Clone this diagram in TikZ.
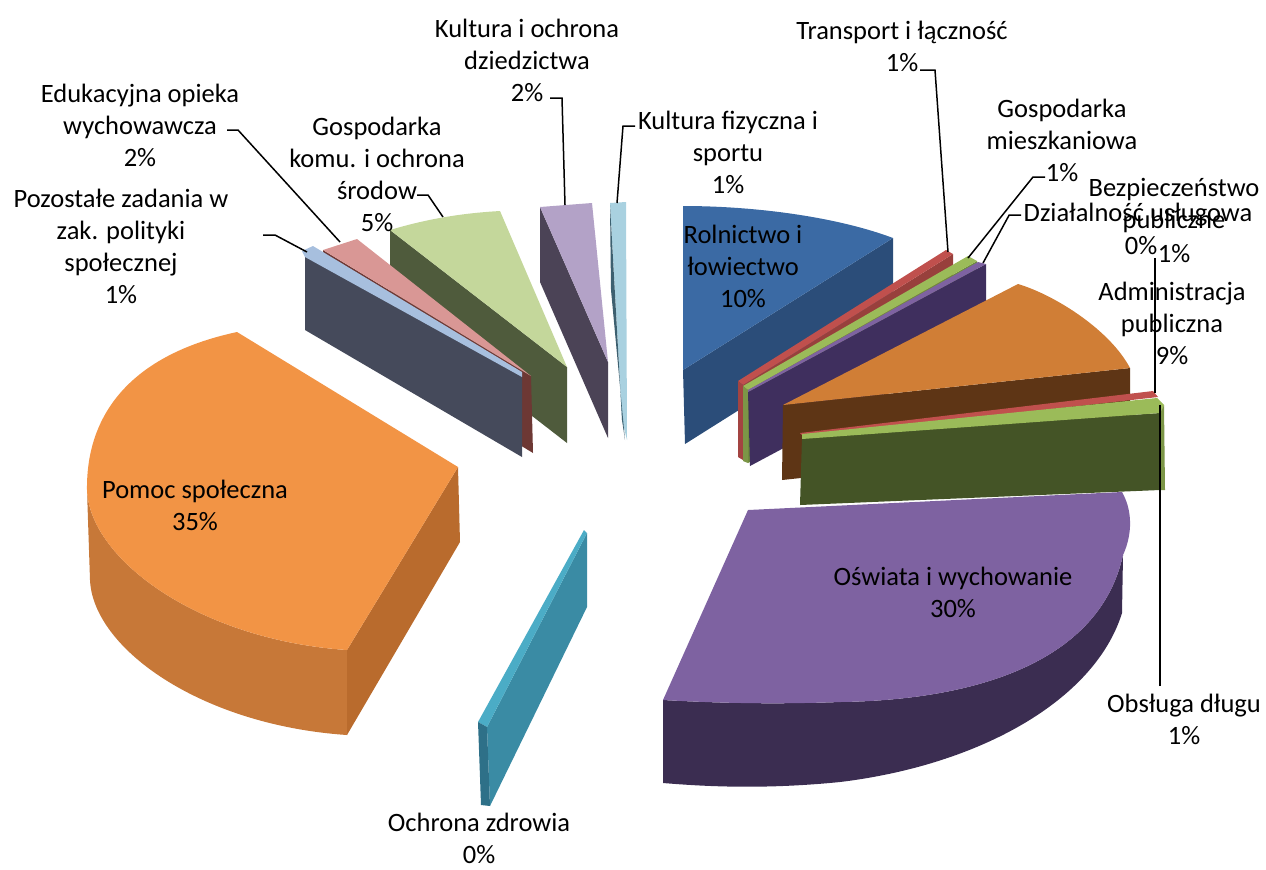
\documentclass[tikz,border=0pt]{standalone}
\usepackage{fontspec}
\setmainfont{Carlito}
\definecolor{RolTop}{HTML}{3B6AA4}
\definecolor{RolSide}{HTML}{2B4D79}
\definecolor{TrTop}{HTML}{C0504D}
\definecolor{TrSide}{HTML}{98403C}
\definecolor{MieTop}{HTML}{9BBB59}
\definecolor{MieSide}{HTML}{6E8B3B}
\definecolor{DzTop}{HTML}{7E62A1}
\definecolor{DzSide}{HTML}{3F2F5E}
\definecolor{AdmTop}{HTML}{D07E36}
\definecolor{AdmSide}{HTML}{5E3515}
\definecolor{BezTop}{HTML}{C0504D}
\definecolor{ObsTop}{HTML}{9BBB59}
\definecolor{ObsSide}{HTML}{445426}
\definecolor{OswTop}{HTML}{7E62A1}
\definecolor{OswSide}{HTML}{3B2D51}
\definecolor{ZdrTop}{HTML}{4BACC6}
\definecolor{ZdrSide}{HTML}{3A8BA4}
\definecolor{ZdrEdge}{HTML}{2E7088}
\definecolor{PomTop}{HTML}{F29445}
\definecolor{PomSide}{HTML}{C77838}
\definecolor{PomCut}{HTML}{B96B2D}
\definecolor{PozTop}{HTML}{A7BFDE}
\definecolor{PozSide}{HTML}{454A5B}
\definecolor{EduTop}{HTML}{D99795}
\definecolor{EduSide}{HTML}{6D3834}
\definecolor{KomTop}{HTML}{C4D79B}
\definecolor{KomSide}{HTML}{4F5B3C}
\definecolor{KulTop}{HTML}{B3A2C7}
\definecolor{KulSide}{HTML}{4B4356}
\definecolor{SpoTop}{HTML}{A9D1E0}
\definecolor{SpoSide}{HTML}{3D6070}
\tikzset{
    lbl/.style = {anchor=center, align=center, inner sep=0pt,
        font=\fontsize{10.6}{12.8}\selectfont},
    leader/.style = {draw, line width=0.6pt}
}

\begin{document}
\begin{tikzpicture}[x=0.4pt,y=-0.4pt]
                \useasboundingbox (0,0) rectangle (1266,869);
                % slices at the back, left side
                \fill[color=KulSide] (540,207) -- (608,362) -- (608,438) -- (540,282) -- cycle;
                \fill[color=KulTop] (540,207) -- (592,203) -- (608,362) -- cycle;
                \fill[color=SpoTop] (610,203) -- (626,202) -- (627,440) -- (622,420) -- cycle;
                \fill[color=SpoSide] (610,205) -- (622,420) -- (625,440) -- (611,290) -- cycle;
                \fill[color=KomSide] (390,230) -- (567,367) -- (567,443) -- (390,306) -- cycle;
                \fill[color=KomTop] (390,230) .. controls (430,218) and (465,213) .. (500,211) -- (567,367) -- cycle;
                \fill[color=EduSide] (323,250) -- (531,376) -- (533,453) -- (325,326) -- cycle;
                \fill[color=EduTop] (323,250) -- (357,239) -- (531,376) -- cycle;
                \fill[color=PozSide] (305,256) -- (522,376) -- (522,457) -- (305,330) -- cycle;
                \fill[color=PozTop] (302,251) -- (313,246) -- (522,372) -- (522,377) -- (305,257) -- cycle;
                % pomoc spoleczna
                \fill[color=PomSide] (87,490) .. controls (90,560) and (200,640) .. (347,650) -- (347,735) .. controls (200,725) and (93,648) .. (90,580) -- cycle;
                \fill[color=PomCut] (458,467) -- (460,542) -- (347,735) -- (347,650) -- cycle;
                \fill[color=PomTop] (458,467) -- (237,332) .. controls (130,355) and (86,415) .. (87,490) .. controls (90,560) and (200,640) .. (347,650) -- cycle;
                \fill[color=ZdrSide] (487,727) -- (587,533) -- (587,607) -- (490,806) -- cycle;
                \fill[color=ZdrTop] (478,722) -- (584,530) -- (587,533) -- (487,727) -- cycle;
                \fill[color=ZdrEdge] (478,722) -- (487,727) -- (490,806) -- (481,805) -- cycle;
                % right side
                \fill[color=RolSide] (683,370) -- (893,238) -- (893,313) -- (685,444) -- cycle;
                \fill[color=RolTop] (683,370) -- (683,206) .. controls (760,206) and (840,218) .. (893,238) -- cycle;
                \fill[color=TrSide] (743,385) -- (953,254) -- (953,330) -- (743,460) -- cycle;
                \fill[color=TrTop] (738,381) -- (946,250) -- (953,254) -- (743,385) -- cycle;
                \fill[color=TrTop!85!black] (738,381) -- (743,385) -- (743,460) -- (738,457) -- cycle;
                \fill[color=MieSide] (748,390) -- (977,261) -- (977,336) -- (748,463) -- cycle;
                \fill[color=MieTop] (743,386) -- (968,256) -- (977,261) -- (748,390) -- cycle;
                \fill[color=MieTop!80!black] (743,386) -- (748,390) -- (748,463) -- (743,461) -- cycle;
                \fill[color=DzSide] (748,392) -- (986,264) -- (986,340) -- (750,466) -- cycle;
                \fill[color=DzTop] (748,390) -- (978,262) -- (986,264) -- (748,392) -- cycle;
                \fill[color=AdmSide] (783,405) -- (1130,368) -- (1130,443) -- (782,480) -- cycle;
                \fill[color=AdmTop] (783,405) -- (1018,284) .. controls (1055,295) and (1110,330) .. (1130,368) -- cycle;
                \fill[color=BezTop] (800,433) -- (1153,391) -- (1158,397) -- (804,437) -- cycle;
                \fill[color=ObsSide] (802,437) -- (1160,413) -- (1160,490) -- (800,505) -- cycle;
                \fill[color=ObsTop] (802,434) -- (1157,398) -- (1164,405) -- (1160,413) -- (802,439) -- cycle;
                \fill[color=ObsTop!80!black] (1160,413) -- (1164,405) -- (1165,490) -- (1160,490) -- cycle;
                \fill[color=OswSide] (663,700) .. controls (700,702) and (760,705) .. (840,702) .. controls (980,700) and (1100,660) .. (1123,555) -- (1122,613) .. controls (1095,700) and (980,765) .. (840,782) .. controls (760,790) and (700,786) .. (663,783) -- cycle;
                \fill[color=OswTop] (748,510) -- (1122,492) .. controls (1135,515) and (1130,540) .. (1123,555) .. controls (1100,660) and (980,700) .. (840,702) .. controls (760,705) and (700,702) .. (663,700) -- cycle;
                % labels
                \node [lbl] (lRol) at (743,266) {Rolnictwo i\\łowiectwo\\10\%};
                \node [lbl] (lTrans) at (902,46) {Transport i łączność\\1\%};
                \node [lbl] (lMieszk) at (1062,140) {Gospodarka\\mieszkaniowa\\1\%};
                \node [lbl] (lBezp) at (1174,206) {Bezpieczeństwo\\publiczne};
                \node [lbl] (lBezpPct) at (1141,246) {0\%};
                \node [lbl] (lDzial) at (1138,215) {Działalność usługowa};
                \node [lbl] (lDzialPct) at (1174,254) {1\%};
                \node [lbl] (lAdm) at (1172,323) {Administracja\\publiczna\\9\%};
                \node [lbl] (lObs) at (1184,719) {Obsługa długu\\1\%};
                \node [lbl] (lOsw) at (953,592) {Oświata i wychowanie\\30\%};
                \node [lbl] (lZdr) at (479,838) {Ochrona zdrowia\\0\%};
                \node [lbl] (lPom) at (195,505) {Pomoc społeczna\\35\%};
                \node [lbl] (lPoz) at (121,246) {Pozostałe zadania w\\zak. polityki\\społecznej\\1\%};
                \node [lbl] (lEdu) at (140,125) {Edukacyjna opieka\\wychowawcza\\2\%};
                \node [lbl] (lKom) at (377,174) {Gospodarka\\komu. i ochrona\\środow\\5\%};
                \node [lbl] (lKult) at (527,60) {Kultura i ochrona\\dziedzictwa\\2\%};
                \node [lbl] (lSport) at (728,152) {Kultura fizyczna i\\sportu\\1\%};
                % leader lines
                \coordinate (sTrans) at (920,70);   \coordinate (tTrans) at (948,252);
                \coordinate (sMieszk) at (1045,177); \coordinate (tMieszk) at (968,258);
                \coordinate (tDzial) at (983,263);
                \coordinate (sBezp) at (1155,258);   \coordinate (tBezp) at (1155,393);
                \coordinate (sObs) at (1160,686);    \coordinate (tObs) at (1160,405);
                \coordinate (sSport) at (635,126);   \coordinate (tSport) at (617,203);
                \coordinate (sKult) at (550,98);     \coordinate (tKult) at (565,205);
                \coordinate (sKom) at (417,195);     \coordinate (tKom) at (443,217);
                \coordinate (sEdu) at (227,130);     \coordinate (tEdu) at (340,242);
                \coordinate (sPoz) at (263,235);     \coordinate (tPoz) at (307,252);
                \draw[leader] (sTrans) -- ++(15,0) -- (tTrans);
                \draw[leader] (sMieszk) -- ++(-12,0) -- (tMieszk);
                \draw[leader] (lDzial.west) ++(-2,0) -- ++(-12,0) -- (tDzial);
                \draw[leader] (sBezp) -- (tBezp);
                \draw[leader, line width=0.8pt] (sObs) -- (tObs);
                \draw[leader] (sSport) -- ++(-12,0) -- (tSport);
                \draw[leader] (sKult) -- ++(12,0) -- (tKult);
                \draw[leader] (sKom) -- ++(11,0) -- (tKom);
                \draw[leader] (sEdu) -- ++(11,0) -- (tEdu);
                \draw[leader] (sPoz) -- ++(12,0) -- (tPoz);
            \end{tikzpicture}
\end{document}
